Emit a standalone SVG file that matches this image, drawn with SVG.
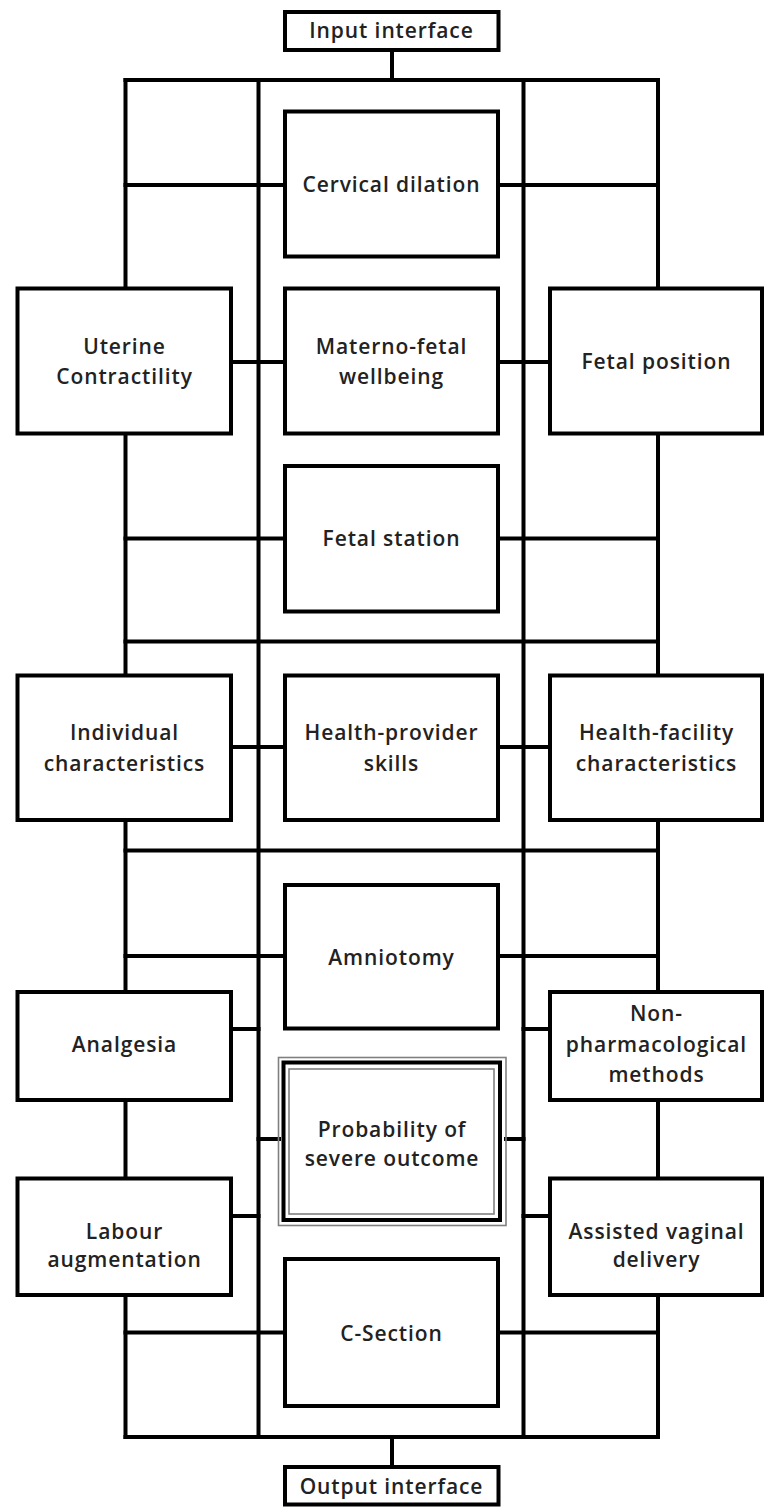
<svg xmlns="http://www.w3.org/2000/svg" width="765" height="1508" viewBox="0 0 765 1508">
<style>
.bg{fill:#ffffff}
.box{fill:#ffffff;stroke:#000000;stroke-width:4}
.ln{stroke:#000000;stroke-width:4;fill:none;stroke-linecap:square}
.g{fill:none;stroke:#808080;stroke-width:1.6}
text{font-family:"Open Sans","Liberation Sans",sans-serif;font-size:21px;font-weight:600;fill:#222222;text-anchor:middle;letter-spacing:0.9px}
</style>
<rect class="bg" x="0" y="0" width="765" height="1508"/>
<g id="connectors">
<line class="ln" x1="392" y1="50" x2="392" y2="80"/>
<line class="ln" x1="392" y1="1437" x2="392" y2="1467"/>
<line class="ln" x1="125.5" y1="80" x2="658" y2="80"/>
<line class="ln" x1="125.5" y1="1437" x2="658" y2="1437"/>
<line class="ln" x1="258.5" y1="80" x2="258.5" y2="1437"/>
<line class="ln" x1="523.5" y1="80" x2="523.5" y2="1437"/>
<line class="ln" x1="125.5" y1="80" x2="125.5" y2="288.5"/>
<line class="ln" x1="125.5" y1="433.5" x2="125.5" y2="675.5"/>
<line class="ln" x1="125.5" y1="820" x2="125.5" y2="992"/>
<line class="ln" x1="125.5" y1="1100" x2="125.5" y2="1178.5"/>
<line class="ln" x1="125.5" y1="1295" x2="125.5" y2="1437"/>
<line class="ln" x1="658" y1="80" x2="658" y2="288.5"/>
<line class="ln" x1="658" y1="433.5" x2="658" y2="675.5"/>
<line class="ln" x1="658" y1="820" x2="658" y2="992"/>
<line class="ln" x1="658" y1="1100" x2="658" y2="1178.5"/>
<line class="ln" x1="658" y1="1295" x2="658" y2="1437"/>
<line class="ln" x1="125.5" y1="185" x2="285" y2="185"/>
<line class="ln" x1="498" y1="185" x2="658" y2="185"/>
<line class="ln" x1="231" y1="362" x2="285" y2="362"/>
<line class="ln" x1="498" y1="362" x2="550" y2="362"/>
<line class="ln" x1="125.5" y1="538.5" x2="285" y2="538.5"/>
<line class="ln" x1="498" y1="538.5" x2="658" y2="538.5"/>
<line class="ln" x1="125.5" y1="641.5" x2="658" y2="641.5"/>
<line class="ln" x1="231" y1="747" x2="285" y2="747"/>
<line class="ln" x1="498" y1="747" x2="550" y2="747"/>
<line class="ln" x1="125.5" y1="850.5" x2="658" y2="850.5"/>
<line class="ln" x1="125.5" y1="956" x2="285" y2="956"/>
<line class="ln" x1="498" y1="956" x2="658" y2="956"/>
<line class="ln" x1="231" y1="1029" x2="258.5" y2="1029"/>
<line class="ln" x1="523.5" y1="1029" x2="550" y2="1029"/>
<line class="ln" x1="258.5" y1="1139" x2="279" y2="1139"/>
<line class="ln" x1="506" y1="1139" x2="523.5" y2="1139"/>
<line class="ln" x1="231" y1="1216" x2="258.5" y2="1216"/>
<line class="ln" x1="523.5" y1="1216" x2="550" y2="1216"/>
<line class="ln" x1="125.5" y1="1332.5" x2="285" y2="1332.5"/>
<line class="ln" x1="498" y1="1332.5" x2="658" y2="1332.5"/>
</g>
<g id="input">
<rect class="box" x="285" y="12" width="213.5" height="38"/>
<text x="391.5" y="38">Input interface</text>
</g>
<g id="cervical">
<rect class="box" x="285" y="111.5" width="213" height="145"/>
<text x="391.5" y="192">Cervical dilation</text>
</g>
<g id="uterine">
<rect class="box" x="17.5" y="288.5" width="213.5" height="145"/>
<text x="124.5" y="354">Uterine</text>
<text x="124.5" y="384">Contractility</text>
</g>
<g id="materno">
<rect class="box" x="285" y="288.5" width="213" height="145"/>
<text x="391.5" y="354">Materno-fetal</text>
<text x="391.5" y="384">wellbeing</text>
</g>
<g id="fetalposition">
<rect class="box" x="550" y="288.5" width="212" height="145"/>
<text x="656.5" y="369">Fetal position</text>
</g>
<g id="fetalstation">
<rect class="box" x="285" y="466" width="213" height="145.5"/>
<text x="391.5" y="545.5">Fetal station</text>
</g>
<g id="individual">
<rect class="box" x="17.5" y="675.5" width="213.5" height="144.5"/>
<text x="124.5" y="740">Individual</text>
<text x="124.5" y="770.5">characteristics</text>
</g>
<g id="provider">
<rect class="box" x="285" y="675.5" width="213" height="144.5"/>
<text x="391.5" y="740">Health-provider</text>
<text x="391.5" y="770.5">skills</text>
</g>
<g id="facility">
<rect class="box" x="550" y="675.5" width="212" height="144.5"/>
<text x="656.5" y="740">Health-facility</text>
<text x="656.5" y="770.5">characteristics</text>
</g>
<g id="amniotomy">
<rect class="box" x="285" y="885" width="213" height="143.5"/>
<text x="391.5" y="965">Amniotomy</text>
</g>
<g id="analgesia">
<rect class="box" x="17.5" y="992" width="213.5" height="108"/>
<text x="124.5" y="1051.5">Analgesia</text>
</g>
<g id="nonpharm">
<rect class="box" x="550" y="992" width="212" height="108"/>
<text x="656.5" y="1020.5">Non-</text>
<text x="656.5" y="1052">pharmacological</text>
<text x="656.5" y="1082">methods</text>
</g>
<g id="probability">
<rect class="g" x="278.5" y="1057.5" width="227.5" height="168"/>
<rect class="box" x="283.5" y="1062.5" width="216.5" height="157.5" stroke-width="4.5"/>
<rect class="g" x="289" y="1069" width="205" height="145"/>
<text x="392" y="1136.5">Probability of</text>
<text x="392" y="1165.5">severe outcome</text>
</g>
<g id="labour">
<rect class="box" x="17.5" y="1178.5" width="213.5" height="116.5"/>
<text x="124.5" y="1238.5">Labour</text>
<text x="124.5" y="1267">augmentation</text>
</g>
<g id="assisted">
<rect class="box" x="550" y="1178.5" width="212" height="116.5"/>
<text x="656.5" y="1238.5">Assisted vaginal</text>
<text x="656.5" y="1267">delivery</text>
</g>
<g id="csection">
<rect class="box" x="285" y="1259" width="213" height="147"/>
<text x="391.5" y="1340.5">C-Section</text>
</g>
<g id="output">
<rect class="box" x="285" y="1467" width="213.5" height="37.5"/>
<text x="391.5" y="1493.5">Output interface</text>
</g>
</svg>
